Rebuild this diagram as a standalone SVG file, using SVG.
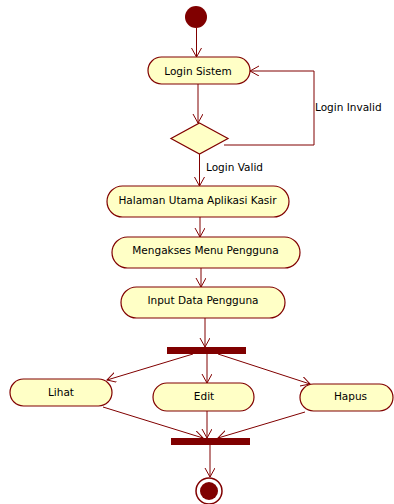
<svg xmlns="http://www.w3.org/2000/svg" width="394" height="504" viewBox="0 0 394 504">
<style>
.node{fill:#ffffc6;stroke:#800000;stroke-width:1.2}
.bar{fill:#800000;stroke:none}
.lbl{font-family:"DejaVu Sans",Tahoma,sans-serif;font-size:10.5px;fill:#000;text-anchor:middle}
.elbl{font-family:"DejaVu Sans",Tahoma,sans-serif;font-size:10.5px;fill:#000}
.edge{fill:none;stroke:#800000;stroke-width:1}
</style>
<defs>
<marker id="arr" markerUnits="userSpaceOnUse" markerWidth="12" markerHeight="12" refX="9" refY="5" orient="auto">
<path d="M0,0 L9,5 L0,10" fill="none" stroke="#800000" stroke-width="1"/>
</marker>
</defs>
<rect width="394" height="504" fill="#fff"/>
<g id="connectors">
<path class="edge" d="M196.5,28 L196.5,57" marker-end="url(#arr)"/>
<path class="edge" d="M198,84 L198,123" marker-end="url(#arr)"/>
<path class="edge" d="M224,145 L314,145 L314,71 L250,71" marker-end="url(#arr)"/>
<path class="edge" d="M199.5,154 L199.5,186" marker-end="url(#arr)"/>
<path class="edge" d="M200,217 L200,237" marker-end="url(#arr)"/>
<path class="edge" d="M201,268 L201,287" marker-end="url(#arr)"/>
<path class="edge" d="M205,318 L205,347" marker-end="url(#arr)"/>
<path class="edge" d="M193,354 L107,380" marker-end="url(#arr)"/>
<path class="edge" d="M207,354 L207,383" marker-end="url(#arr)"/>
<path class="edge" d="M218,354 L310,384" marker-end="url(#arr)"/>
<path class="edge" d="M103,407 L203,438" marker-end="url(#arr)"/>
<path class="edge" d="M207,411 L207,438" marker-end="url(#arr)"/>
<path class="edge" d="M305,412 L218,438" marker-end="url(#arr)"/>
<path class="edge" d="M210,445 L210,477" marker-end="url(#arr)"/>
<text class="elbl" x="315" y="111">Login Invalid</text>
<text class="elbl" x="206" y="171">Login Valid</text>
</g>
<g id="start"><circle cx="196" cy="17" r="11" fill="#800000"/></g>
<g id="login"><rect class="node" x="148" y="57" width="102" height="27" rx="13.5"/><text class="lbl" x="198" y="75">Login Sistem</text></g>
<g id="decision"><polygon class="node" points="199.5,123 228,138.5 199.5,154 171,138.5"/></g>
<g id="halaman"><rect class="node" x="107" y="186" width="182" height="31" rx="15.5"/><text class="lbl" x="197.5" y="204">Halaman Utama Aplikasi Kasir</text></g>
<g id="mengakses"><rect class="node" x="112" y="237" width="188" height="31" rx="15.5"/><text class="lbl" x="205.5" y="254">Mengakses Menu Pengguna</text></g>
<g id="input"><rect class="node" x="121" y="287" width="164" height="31" rx="15.5"/><text class="lbl" x="203" y="304">Input Data Pengguna</text></g>
<g id="fork"><rect class="bar" x="167" y="347" width="79" height="7"/></g>
<g id="lihat"><rect class="node" x="10" y="379" width="102" height="27" rx="13.5"/><text class="lbl" x="61" y="396">Lihat</text></g>
<g id="edit"><rect class="node" x="153" y="383" width="101" height="28" rx="14"/><text class="lbl" x="204" y="400">Edit</text></g>
<g id="hapus"><rect class="node" x="300" y="384" width="93" height="27" rx="13.5"/><text class="lbl" x="350.5" y="400">Hapus</text></g>
<g id="join"><rect class="bar" x="171" y="438" width="79" height="7"/></g>
<g id="end"><circle cx="209" cy="491" r="13" fill="#fff" stroke="#800000" stroke-width="1.5"/><circle cx="209" cy="491" r="9" fill="#800000"/></g>
</svg>
